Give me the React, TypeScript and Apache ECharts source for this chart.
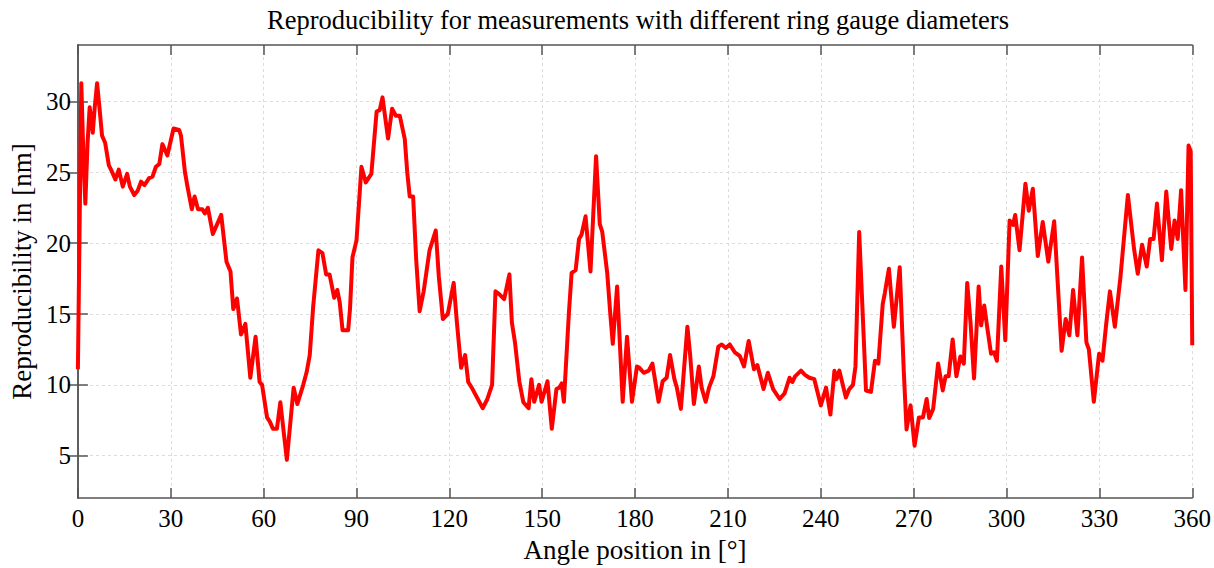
import React, { useEffect, useRef } from "react";
import * as echarts from "echarts";

const angles: number[] = [
  0, 0.6, 1.1, 1.8, 2.4, 3.1, 3.8, 4.8, 5.4, 6.2, 7.0, 7.8, 8.8, 10.0, 10.7, 12.1, 13.2, 14.5, 15.9, 16.8,
  18.2, 19.3, 20.4, 21.5, 23.0, 24.1, 25.2, 26.3, 27.3, 28.9, 30.9, 32.7, 33.3, 34.6, 35.4, 36.8, 37.7, 38.8,
  40.2, 41.0, 42.0, 43.6, 46.3, 48.0, 49.3, 50.2, 51.4, 52.7, 54.1, 55.7, 57.4, 58.7, 59.5, 61.1, 62.0, 63.0,
  64.3, 65.4, 67.5, 69.7, 70.9, 72.8, 73.9, 74.9, 76.0, 77.7, 79.0, 80.2, 81.3, 82.8, 83.8, 84.6, 85.5, 87.3,
  87.9, 88.7, 90.0, 91.6, 93.0, 94.8, 96.5, 97.5, 98.4, 100.2, 101.5, 102.7, 104.0, 105.6, 106.4, 107.2, 108.3,
  109.3, 110.4, 111.7, 113.6, 115.6, 116.6, 117.9, 119.5, 121.4, 122.4, 123.8, 125.1, 126.1, 127.5, 128.7,
  130.8, 132.3, 133.8, 134.9, 136.1, 137.7, 139.4, 140.2, 141.2, 142.6, 143.9, 145.6, 146.5, 147.4, 149.0,
  149.8, 151.7, 153.1, 154.6, 155.5, 156.3, 157.0, 158.6, 159.5, 160.8, 161.9, 162.7, 164.0, 165.6, 167.4,
  168.6, 169.4, 171.0, 172.0, 172.8, 174.2, 176.0, 177.4, 179.0, 180.6, 181.4, 182.8, 184.4, 185.6, 187.6,
  188.9, 190.2, 191.3, 192.7, 193.5, 194.8, 196.9, 197.8, 199.0, 200.6, 201.5, 202.8, 203.9, 205.3, 206.9,
  208.0, 209.3, 210.6, 212.2, 213.8, 215.2, 216.7, 218.4, 219.5, 221.5, 222.9, 224.6, 226.7, 228.3, 229.9,
  230.8, 231.7, 233.6, 234.9, 236.3, 237.9, 240.0, 241.7, 243.1, 244.4, 245.1, 246.0, 248.1, 249.2, 250.4,
  251.2, 252.4, 254.6, 256.2, 257.5, 258.6, 260.0, 260.7, 262.0, 263.6, 265.5, 266.8, 267.7, 269.0, 270.3,
  271.7, 273.0, 274.2, 275.0, 276.3, 277.9, 279.4, 280.3, 281.3, 282.6, 283.8, 285.1, 286.2, 287.3, 288.4,
  289.5, 291.0, 291.8, 292.8, 293.8, 295.0, 296.0, 296.9, 298.3, 299.6, 301.0, 302.1, 302.8, 304.2, 306.1,
  307.2, 308.5, 310.1, 311.7, 313.5, 315.4, 317.8, 319.1, 320.3, 321.5, 322.9, 324.4, 325.8, 326.6, 328.2,
  329.9, 331.0, 332.2, 333.4, 335.0, 336.8, 339.2, 341.2, 342.4, 343.8, 345.3, 346.4, 347.5, 348.6, 350.2,
  351.6, 353.2, 354.3, 355.3, 356.4, 357.8, 358.8, 359.5, 360,
];

const reproducibility: number[] = [
  11.1, 22, 31.3, 26, 22.8, 27, 29.6, 27.8, 29.5, 31.3, 29.5, 27.6, 27.1, 25.5, 25.2, 24.5, 25.2, 24.0, 24.9, 24.0,
  23.4, 23.7, 24.35, 24.1, 24.6, 24.7, 25.4, 25.6, 27.0, 26.2, 28.1, 28.0, 27.6, 25.0, 24.0, 22.4, 23.3, 22.4,
  22.4, 22.1, 22.5, 20.65, 22.0, 18.7, 18.0, 15.35, 16.1, 13.55, 14.3, 10.5, 13.4, 10.2, 10.0, 7.7, 7.4, 6.9,
  6.9, 8.77, 4.7, 9.8, 8.65, 10.0, 10.9, 12.1, 15.5, 19.5, 19.3, 17.8, 17.8, 16.15, 16.7, 15.8, 13.85, 13.85,
  15.35, 19.0, 20.2, 25.4, 24.3, 24.9, 29.3, 29.4, 30.3, 27.4, 29.5, 29.0, 29.0, 27.35, 25.0, 23.3, 23.3,
  18.8, 15.2, 16.6, 19.5, 20.9, 17.65, 14.65, 15.0, 17.2, 14.5, 11.2, 12.1, 10.2, 9.7, 9.2,
  8.35, 9.0, 10.0, 16.6, 16.4, 16.05, 17.8, 14.4, 13.0, 10.25, 8.77, 8.35, 10.4, 8.8, 10.0,
  8.8, 10.25, 6.9, 9.7, 9.8, 10.1, 8.8, 15.0, 17.9, 18.1, 20.3, 20.6, 21.9, 18.0, 26.15,
  21.35, 20.8, 17.9, 15.0, 12.9, 16.95, 8.8, 13.4, 8.8, 11.3, 11.2, 10.85, 11.0, 11.5, 8.8,
  10.25, 10.5, 12.1, 10.4, 9.8, 8.3, 14.1, 12.1, 8.65, 11.3, 9.8, 8.8, 9.8, 10.6, 12.7,
  12.85, 12.6, 12.85, 12.3, 12.05, 11.3, 13.1, 11.1, 11.4, 9.7, 10.85, 9.7, 9.0, 9.4, 10.5,
  10.2, 10.6, 11.0, 10.7, 10.5, 10.4, 8.55, 9.8, 7.9, 11.0, 10.4, 11.0, 9.1, 9.7, 10.0,
  11.3, 20.8, 9.6, 9.5, 11.7, 11.5, 15.7, 16.5, 18.2, 14.1, 18.3, 11, 6.85, 8.55, 5.7,
  7.7, 7.7, 9.0, 7.65, 8.3, 11.5, 9.6, 10.6, 10.6, 13.2, 10.6, 12.0, 11.5, 17.2, 14.3,
  10.45, 16.95, 14.2, 15.6, 14.0, 12.2, 12.3, 11.7, 18.35, 13.15, 21.6, 21.3, 22.0, 19.5, 24.2,
  22.3, 23.85, 19.1, 21.5, 18.7, 21.55, 12.4, 14.65, 13.5, 16.7, 13.5, 19.0, 13.0, 12.5, 8.8,
  12.2, 11.7, 14.3, 16.6, 14.1, 17.6, 23.4, 19.6, 17.85, 19.9, 18.35, 20.3, 20.3, 22.8, 18.8,
  23.65, 19.6, 21.6, 20.3, 23.75, 16.7, 26.9, 26.5, 12.8,
];

const yTicks: number[] = [5, 10, 15, 20, 25, 30];

const TITLE = "Reproducibility for measurements with different ring gauge diameters";
const X_NAME = "Angle position in [°]";
const Y_NAME = "Reproducibility in [nm]";

export default function App() {
  const ref = useRef<HTMLDivElement>(null);
  useEffect(() => {
    if (!ref.current) return;
    const chart = echarts.init(ref.current, undefined, { renderer: "svg" });
    const font = "'Liberation Serif', 'Times New Roman', serif";
    const axisColor = "#555555";
    const gridStyle = { color: "#dcdcdc", type: [3, 3] as any, width: 1 };
    const data = angles.map((a, i) => [a, reproducibility[i]]);
    chart.setOption({
      animation: false,
      backgroundColor: "#ffffff",
      title: {
        text: TITLE,
        left: 633,
        textAlign: "center",
        top: 1,
        textStyle: { fontFamily: font, fontSize: 26.5, fontWeight: "normal", color: "#000" },
      },
      grid: { left: 73, right: 21, top: 45, bottom: 62, containLabel: false },
      xAxis: [
        {
          type: "value",
          min: 0,
          max: 360,
          interval: 30,
          position: "bottom",
          name: X_NAME,
          nameLocation: "middle",
          nameGap: 36,
          nameTextStyle: { fontFamily: font, fontSize: 27, color: "#000" },
          axisLine: { show: true, lineStyle: { color: axisColor, width: 1.5 } },
          axisTick: { show: true, inside: true, length: 10, lineStyle: { color: axisColor, width: 1.5 } },
          axisLabel: { fontFamily: font, fontSize: 25, color: "#000", margin: 8 },
          splitLine: { show: true, lineStyle: gridStyle },
        },
        {
          type: "value",
          min: 0,
          max: 360,
          interval: 30,
          position: "top",
          axisLine: { show: true, lineStyle: { color: axisColor, width: 1.5 } },
          axisTick: { show: true, inside: true, length: 10, lineStyle: { color: axisColor, width: 1.5 } },
          axisLabel: { show: false },
          splitLine: { show: false },
        },
      ],
      yAxis: [
        {
          type: "value",
          min: 2,
          max: 34,
          position: "left",
          name: Y_NAME,
          nameLocation: "middle",
          nameGap: 40,
          nameTextStyle: { fontFamily: font, fontSize: 27, color: "#000" },
          axisLine: { show: true, lineStyle: { color: axisColor, width: 1.5 } },
          axisTick: {
            show: true,
            inside: true,
            length: 10,
            customValues: yTicks,
            lineStyle: { color: axisColor, width: 1.5 },
          },
          axisLabel: { fontFamily: font, fontSize: 25, color: "#000", margin: 7, customValues: yTicks },
          splitLine: { show: true, lineStyle: gridStyle },
        },
        {
          type: "value",
          min: 2,
          max: 34,
          position: "right",
          axisLine: { show: true, lineStyle: { color: axisColor, width: 1.5 } },
          axisTick: {
            show: true,
            inside: true,
            length: 10,
            customValues: yTicks,
            lineStyle: { color: axisColor, width: 1.5 },
          },
          axisLabel: { show: false, customValues: yTicks },
          splitLine: { show: false },
        },
      ],
      series: [
        {
          type: "line",
          data,
          xAxisIndex: 0,
          yAxisIndex: 0,
          showSymbol: false,
          symbol: "none",
          lineStyle: { color: "#ff0000", width: 4, join: "round" },
          itemStyle: { color: "#ff0000" },
          z: 5,
        },
      ],
    });
    return () => chart.dispose();
  }, []);
  return (
    <div
      ref={ref}
      style={{ position: "absolute", left: 0, top: 0, width: 1214, height: 568, background: "#fff" }}
    />
  );
}
